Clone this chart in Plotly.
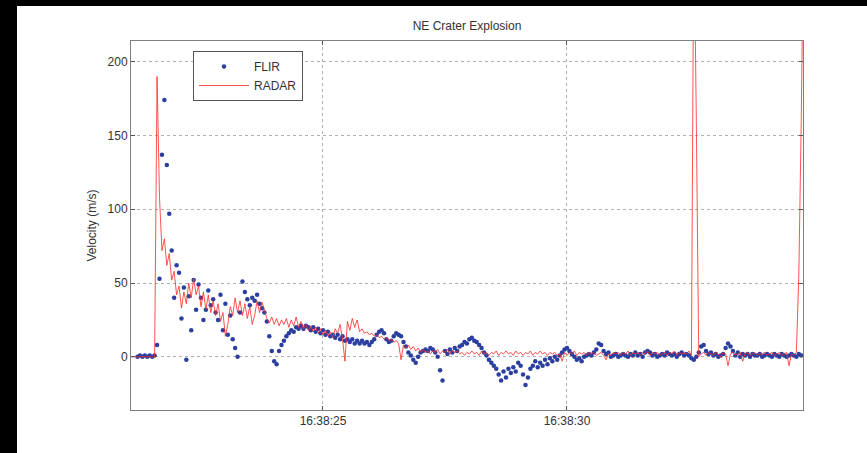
import plotly.graph_objects as go

# Time is seconds after 16:38:00; both sensors sampled every 0.05 s.
FLIR_T0 = 21.20
RADAR_T0 = 21.05
DT = 0.05

# FLIR velocity estimates (m/s)
flir_v = (
    [0, 1, 0, 1, 0, 1, 0, 1, 8, 53, 137, 174, 130, 97, 72, 40]
    + [62, 57, 26, 47, -2, 41, 18, 52, 32, 49, 40, 25, 32, 45, 35, 39, 30, 25, 42, 18]      # :22
    + [36, 15, 28, 12, 6, 0, 30, 51, 44, 39, 35, 40, 38, 42, 36, 33, 30, 24, 14, 4]         # :23
    + [-3, -5, 4, 8, 11, 14, 16, 18, 17, 20, 19, 21, 19, 21, 20, 18, 20, 17, 19, 16]        # :24
    + [18, 15, 17, 14, 15, 13, 15, 12, 14, 11, 12, 10, 12, 9, 11, 9, 11, 9, 10, 8]          # :25
    + [10, 12, 15, 17, 18, 16, 12, 10, 11, 14, 16, 15, 14, 10, 7, 3, 1, -2, -4, 0]          # :26
    + [3, 4, 5, 4, 6, 5, 3, 0, -9, -16, 4, 2, 5, 3, 6, 4, 7, 8, 10, 9]                      # :27
    + [12, 13, 11, 10, 8, 6, 3, 1, -2, -4, -6, -8, -12, -16, -10, -14, -8, -11, -7, -10]    # :28
    + [-4, -6, -12, -19, -14, -8, -6, -3, -7, -4, -6, -2, -5, -1, -3, 0, -2, 1, 3, 5]       # :29
    + [6, 4, 2, 0, -2, -1, -3, 0, 1, 2, 1, 3, 5, 9, 8, 4, 2, 3, 0, 1]                       # :30
    + [2, 0, 1, 2, 1, 0, 2, 1, 3, 1, 2, 0, 3, 4, 3, 1, 2, 0, 1, 2]                          # :31
    + [1, 3, 2, 1, 2, 0, 2, 3, 1, 2, 1, -1, -2, 0, 3, 7, 8, 4, 2, 3]                        # :32
    + [1, 2, 0, 1, 2, 6, 9, 7, 4, 1, 3, 0, 2, 1, 2, 0, 2, 1, 1, 2]                          # :33
    + [0, 1, 2, 1, 0, 2, 1, 0, 2, 1, 0, 1, 2, 1, 0, 2, 1]                                   # :34
)

# Doppler radar velocity (m/s)
radar_v = (
    [0, 0, 0, 0, 0, 0, 0, 0, 0, 0, 0]
    + [190, 108, 72, 80, 62, 70, 52, 58]
    + [42, 48, 33, 44, 36, 50, 40, 53, 42, 48, 34, 44, 32, 42, 30, 38, 28, 36, 24, 30]      # :22
    + [14, 22, 34, 28, 40, 30, 38, 28, 36, 26, 34, 22, 28, 38, 30, 37, 32, 26, 23, 27]      # :23
    + [22, 26, 21, 25, 22, 26, 20, 25, 21, 27, 20, 24, 19, 22, 18, 21, 17, 20, 16, 19]      # :24
    + [15, 18, 14, 17, 13, 19, 16, 22, 12, -3, 24, 18, 26, 20, 25, 17, 19, 16, 17, 15]      # :25
    + [16, 14, 15, 13, 14, 12, 13, 11, 12, 10, 11, 9, -2, 8, 6, 8, 5, 7, 4, 6]              # :26
    + [3, 5, 3, 4, 2, 4, 3, 5, 2, 4, 3, 5, 2, 4, 3, 4, 2, 3, 1, 3]                          # :27
    + [2, 4, 2, 3, 1, 4, 2, 3, 1, 3, 2, 4, 1, 3, 2, 4, 2, 3, 1, 4]                          # :28
    + [2, 3, 1, 3, 2, 4, 1, 3, 2, 4, 2, 3, 1, 3, 2, 3, 1, 2, -3, 3]                         # :29
    + [1, 3, 2, 4, 1, 3, 2, 3, 1, 3, 2, 3, 1, 2, 3, 1, -2, 2, 1, 3]                         # :30
    + [2, 3, 1, 3, 2, 4, 1, 3, 2, 3, 1, 3, 2, 4, 1, 3, 2, 3, 1, 2]                          # :31
    + [3, 1, 3, 2, 4, 1, 3, 2, 3, 2, 4, 1, 300, 160, 0, 2, 3, 1, 3, 2]                      # :32
    + [1, 3, 2, 0, 3, 2, -6, 2, 3, 1, 2, 3, -3, 2, 3, 1, 2, 3, 1, 2]                        # :33
    + [2, 3, 1, 2, 3, 1, 2, 3, 1, 2, 3, -6, 2, 1, 3, 55, 160, 300]                          # :34
)

flir_t = [round(FLIR_T0 + DT * i, 3) for i in range(len(flir_v))]
radar_t = [round(RADAR_T0 + DT * i, 3) for i in range(len(radar_v))]

tick_secs = [25, 30]
tick_labels = ["16:38:25", "16:38:30"]
y_ticks = [0, 50, 100, 150, 200]

W, H = 867, 453
ML, MR, MT, MB = 131, 64, 41, 43
PW, PH = W - ML - MR, H - MT - MB


def px_x(px):
    return (px - ML) / PW


def px_y(py):
    return (H - MB - py) / PH


fig = go.Figure()
fig.add_trace(go.Scatter(
    x=flir_t, y=flir_v, mode="markers", name="FLIR",
    marker=dict(color="#2a3f9f", size=4.5, line=dict(width=0)),
))
fig.add_trace(go.Scatter(
    x=radar_t, y=radar_v, mode="lines", name="RADAR",
    line=dict(color="rgba(255,40,40,0.8)", width=1),
))

axis_common = dict(
    showline=True, linecolor="#808080", linewidth=1, mirror="allticks",
    ticks="inside", ticklen=4, tickcolor="#555555",
    showgrid=True, gridcolor="#b0b0b0", griddash="dot", gridwidth=1,
    zeroline=False, tickfont=dict(size=12, color="#333333"),
)

fig.update_xaxes(range=[21.066, 34.836], tickvals=tick_secs, ticktext=tick_labels,
                 **axis_common)
fig.update_yaxes(range=[-36, 214], tickvals=y_ticks,
                 title=dict(text="Velocity (m/s)", font=dict(size=12, color="#333333"),
                            standoff=8),
                 **axis_common)

fig.update_layout(
    width=W, height=H,
    margin=dict(l=ML, r=MR, t=MT, b=MB, pad=0),
    paper_bgcolor="white", plot_bgcolor="white",
    font=dict(family="Liberation Sans, Arial, sans-serif", size=12, color="#333333"),
    title=dict(text="NE Crater Explosion", x=px_x(467), xref="paper", xanchor="center",
               y=1 - 26 / H, yref="container", yanchor="middle",
               font=dict(size=12, color="#333333")),
    legend=dict(x=px_x(193), y=px_y(51), xanchor="left", yanchor="top",
                bgcolor="white", bordercolor="#555555", borderwidth=1,
                itemwidth=50,
                font=dict(size=12, color="#333333"), tracegroupgap=0),
    shapes=[
        dict(type="rect", xref="paper", yref="paper", layer="above",
             x0=px_x(0), x1=px_x(17), y0=px_y(H), y1=px_y(0),
             fillcolor="black", line=dict(width=0)),
        dict(type="rect", xref="paper", yref="paper", layer="above",
             x0=px_x(0), x1=px_x(W), y0=px_y(6), y1=px_y(0),
             fillcolor="black", line=dict(width=0)),
    ],
)

fig.write_html("out.html")
